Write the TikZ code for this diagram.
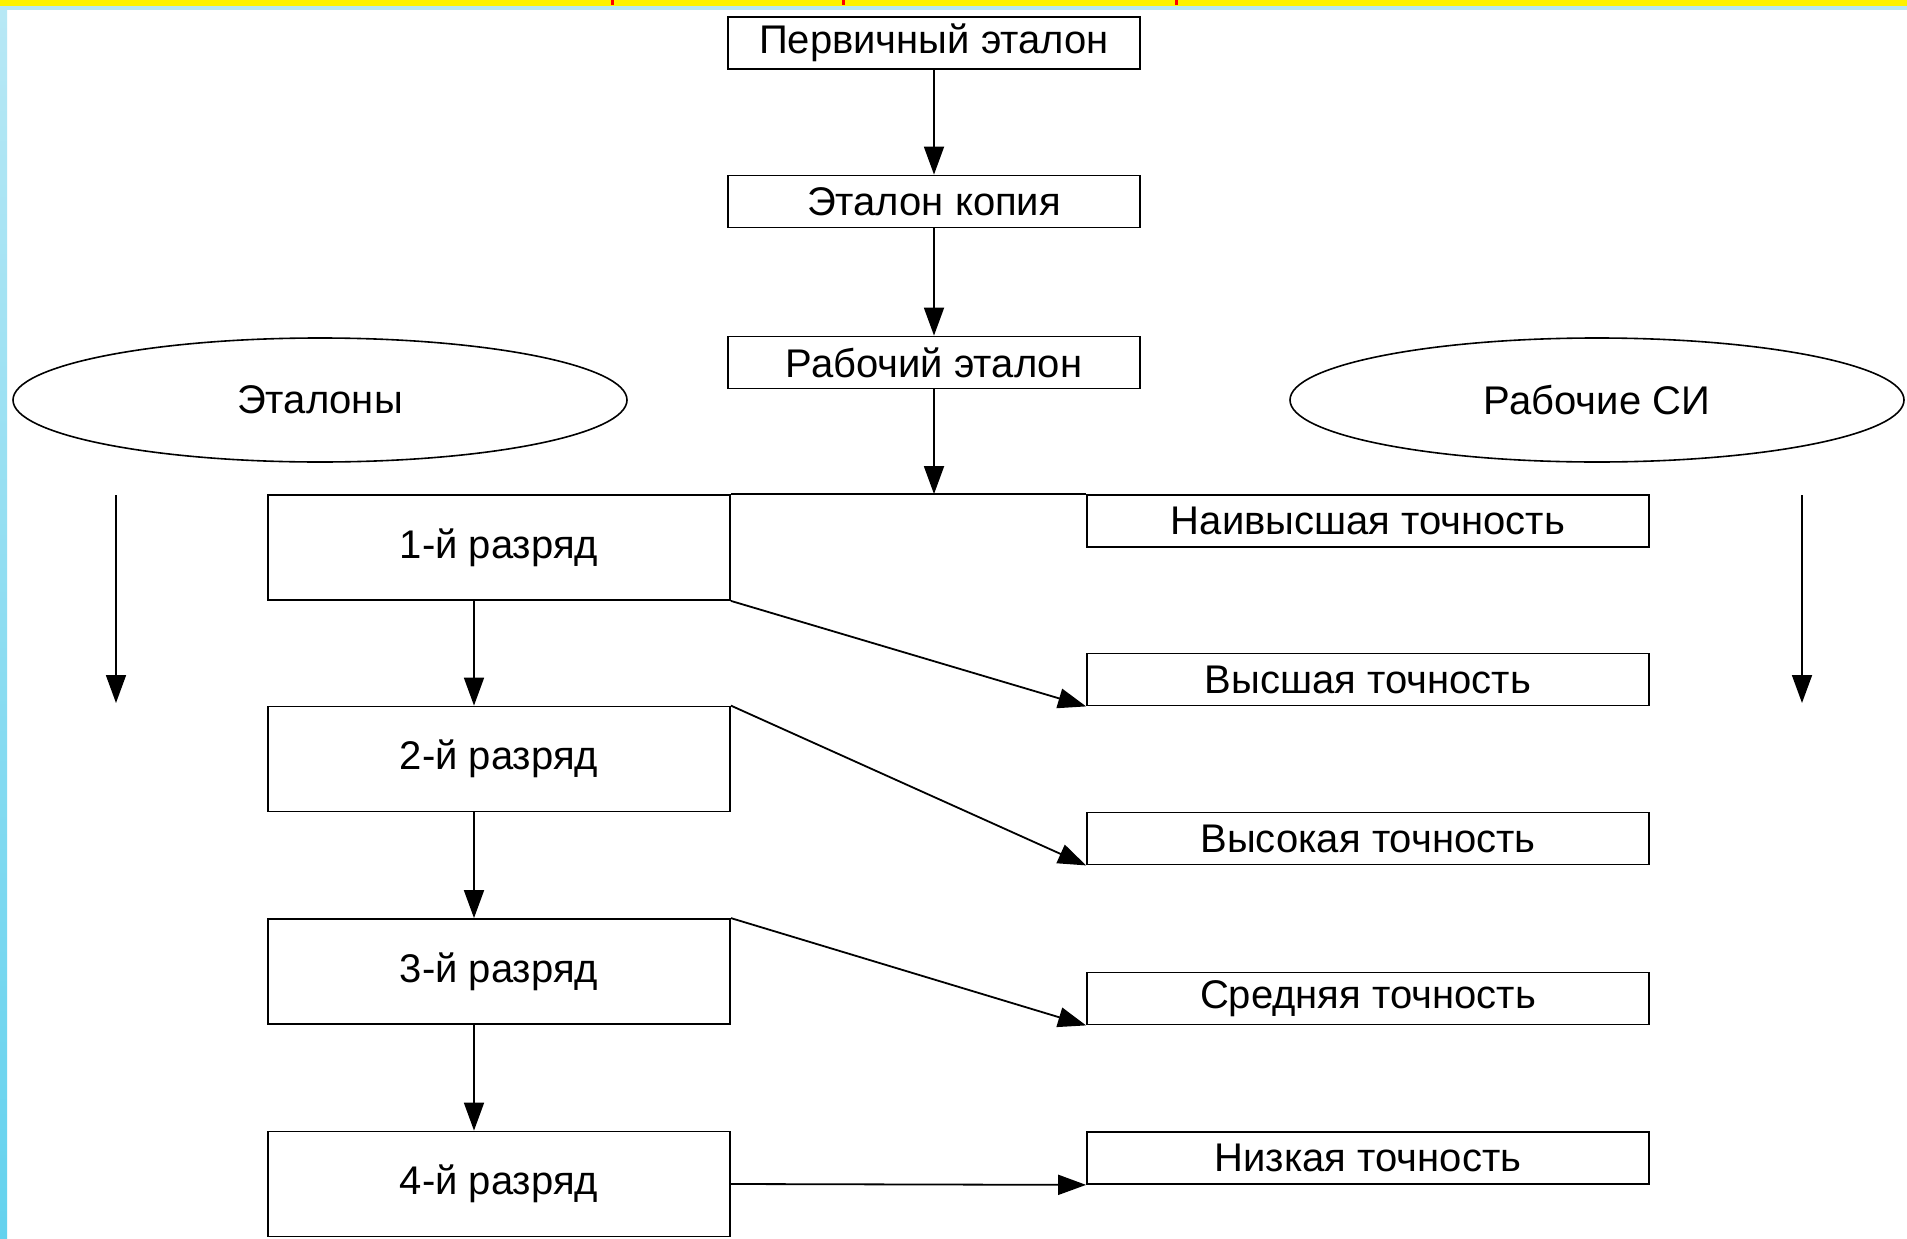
\documentclass[tikz,border=0pt]{standalone}
\usepackage{fontspec}
\setmainfont{Liberation Sans}
\usetikzlibrary{arrows.meta,shapes.geometric}
\definecolor{striptop}{RGB}{184,232,245}
\definecolor{stripbot}{RGB}{100,210,238}

\tikzset{
  box/.style={draw,line width=1.8pt,rectangle,inner sep=0pt,fill=white,font=\fontsize{40}{44}\selectfont},
  smallbox/.style={box,minimum width=412pt,minimum height=52pt},
  rankbox/.style={box,minimum width=462pt,minimum height=105pt},
  precbox/.style={box,minimum width=562pt,minimum height=52pt},
  oval/.style={draw,line width=1.6pt,ellipse,inner sep=0pt,minimum width=614pt,minimum height=124pt,font=\fontsize{40}{44}\selectfont},
  arr/.style={line width=1.8pt,-{Triangle[length=28pt,width=20pt]}},
}

\begin{document}
\begin{tikzpicture}[x=1pt,y=-1pt]
  % background and frame strips
  \fill[white] (0,0) rectangle (1907,1239);
  \shade[top color=striptop,bottom color=stripbot] (0,0) rectangle (7,1239);
  \fill[striptop] (0,6) rectangle (1907,10);
  \fill[yellow] (0,0) rectangle (1907,6);
  \foreach \x in {612,843,1176}
    \fill[red] (\x-1.5,0) rectangle (\x+1.5,5);
  \useasboundingbox (0,0) rectangle (1907,1239);

  % top chain
  \node[smallbox] (prim) at (934,43) {Первичный эталон};
  \node[smallbox] (copy) at (934,201.5) {Эталон копия};
  \node[smallbox] (work) at (934,362.5) {Рабочий эталон};

  % groups
  \node[oval] (etal) at (320,400) {Эталоны};
  \node[oval] (wsi) at (1597,400) {Рабочие СИ};

  % ranks
  \node[rankbox] (r1) at (499,547.5) {1-й разряд};
  \node[rankbox] (r2) at (499,759) {2-й разряд};
  \node[rankbox] (r3) at (499,971.5) {3-й разряд};
  \node[rankbox] (r4) at (499,1184) {4-й разряд};

  % precision classes
  \node[precbox] (a1) at (1368,521) {Наивысшая точность};
  \node[precbox] (a2) at (1368,679.5) {Высшая точность};
  \node[precbox] (a3) at (1368,838.5) {Высокая точность};
  \node[precbox] (a4) at (1368,998.5) {Средняя точность};
  \node[precbox] (a5) at (1368,1158) {Низкая точность};

  \coordinate (lt) at (116,495);
  \coordinate (lb) at (116,703);
  \coordinate (rt) at (1802,495);
  \coordinate (rb) at (1802,703);

  \draw[arr] (prim) -- (copy);
  \draw[arr] (copy) -- (work);
  \draw[line width=1.8pt] (r1.north east) -- (a1.north west);
  \draw[arr] (work) -- (work.south |- r1.north);

  \draw[arr] ([xshift=-25pt]r1.south) -- ([xshift=-25pt]r2.north);
  \draw[arr] ([xshift=-25pt]r2.south) -- ([xshift=-25pt]r3.north);
  \draw[arr] ([xshift=-25pt]r3.south) -- ([xshift=-25pt]r4.north);

  \draw[arr] (r1.south east) -- (a2.south west);
  \draw[arr] (r2.north east) -- (a3.south west);
  \draw[arr] (r3.north east) -- (a4.south west);
  \draw[arr] (r4.east) -- (a5.south west);

  \draw[arr] (lt) -- (lb);
  \draw[arr] (rt) -- (rb);
\end{tikzpicture}
\end{document}
